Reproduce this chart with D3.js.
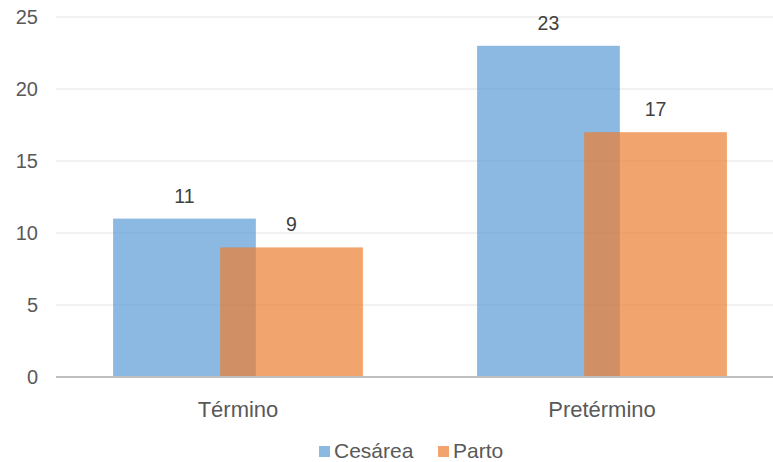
<!DOCTYPE html>
<html>
<head>
<meta charset="utf-8">
<script src="https://cdn.jsdelivr.net/npm/d3@7"></script>
<style>
  html, body { margin: 0; padding: 0; background: #fff; }
  svg { display: block; font-family: "Liberation Sans", Arial, sans-serif; }
</style>
</head>
<body>
<svg id="chart" width="773" height="462"></svg>
<script>
// Births by gestational age and delivery type
const categories = ["Término", "Pretérmino"];
const seriesNames = ["Cesárea", "Parto"];
const cesarea = [11, 23];
const parto = [9, 17];
const yTicks = [0, 5, 10, 15, 20, 25];
const seriesColors = ["#5B9BD5", "#ED7D31"];

const seriesValues = [cesarea, parto];
const svg = d3.select("#chart");
const plot = { left: 56, right: 784, top: 17, bottom: 377 };

const x = d3.scaleBand().domain(categories).range([plot.left, plot.right]);
const y = d3.scaleLinear().domain([0, 25]).range([plot.bottom, plot.top]);

// Clustered bars: gap width 80%, overlap 25%
const gapWidth = 0.8, overlap = 0.25;
const nS = seriesNames.length;
const barW = x.bandwidth() / (gapWidth + 1 + (nS - 1) * (1 - overlap));
const step = barW * (1 - overlap);
const groupW = barW + (nS - 1) * step;
const barX = (c, si) => x(c) + (x.bandwidth() - groupW) / 2 + si * step;

// gridlines
svg.append("g")
  .selectAll("line")
  .data(yTicks.filter(d => d > 0))
  .join("line")
  .attr("x1", plot.left).attr("x2", plot.right)
  .attr("y1", d => y(d)).attr("y2", d => y(d))
  .attr("stroke", "#ECECEC").attr("stroke-width", 1.3);

// y tick labels
svg.append("g")
  .selectAll("text")
  .data(yTicks)
  .join("text")
  .attr("x", 38).attr("y", d => y(d))
  .attr("dy", "0.35em")
  .attr("text-anchor", "end")
  .attr("font-size", 20)
  .attr("fill", "#595959")
  .text(d => d);

// bars and value labels
seriesNames.forEach((name, si) => {
  const rows = categories.map((c, i) => ({ c, v: seriesValues[si][i] }));
  const g = svg.append("g");
  g.selectAll("rect")
    .data(rows)
    .join("rect")
    .attr("x", d => barX(d.c, si))
    .attr("y", d => y(d.v))
    .attr("width", barW)
    .attr("height", d => y(0) - y(d.v))
    .attr("fill", seriesColors[si])
    .attr("fill-opacity", 0.7);
  g.selectAll("text")
    .data(rows)
    .join("text")
    .attr("x", d => barX(d.c, si) + barW / 2)
    .attr("y", d => y(d.v) - 16)
    .attr("text-anchor", "middle")
    .attr("font-size", 19.5)
    .attr("fill", "#404040")
    .text(d => d.v);
});

// baseline
svg.append("line")
  .attr("x1", plot.left).attr("x2", plot.right)
  .attr("y1", y(0)).attr("y2", y(0))
  .attr("stroke", "#BFBFBF").attr("stroke-width", 2);

// category labels
svg.append("g")
  .selectAll("text")
  .data(categories)
  .join("text")
  .attr("x", d => x(d) + x.bandwidth() / 2)
  .attr("y", 417)
  .attr("text-anchor", "middle")
  .attr("font-size", 22)
  .attr("fill", "#595959")
  .text(d => d);

// legend
const legend = svg.append("g");
const legendX = [319, 438];
seriesNames.forEach((name, si) => {
  legend.append("rect")
    .attr("x", legendX[si]).attr("y", 446)
    .attr("width", 11).attr("height", 11)
    .attr("fill", seriesColors[si]).attr("fill-opacity", 0.7);
  legend.append("text")
    .attr("x", legendX[si] + 15).attr("y", 458)
    .attr("font-size", 21)
    .attr("fill", "#595959")
    .text(name);
});
</script>
</body>
</html>
